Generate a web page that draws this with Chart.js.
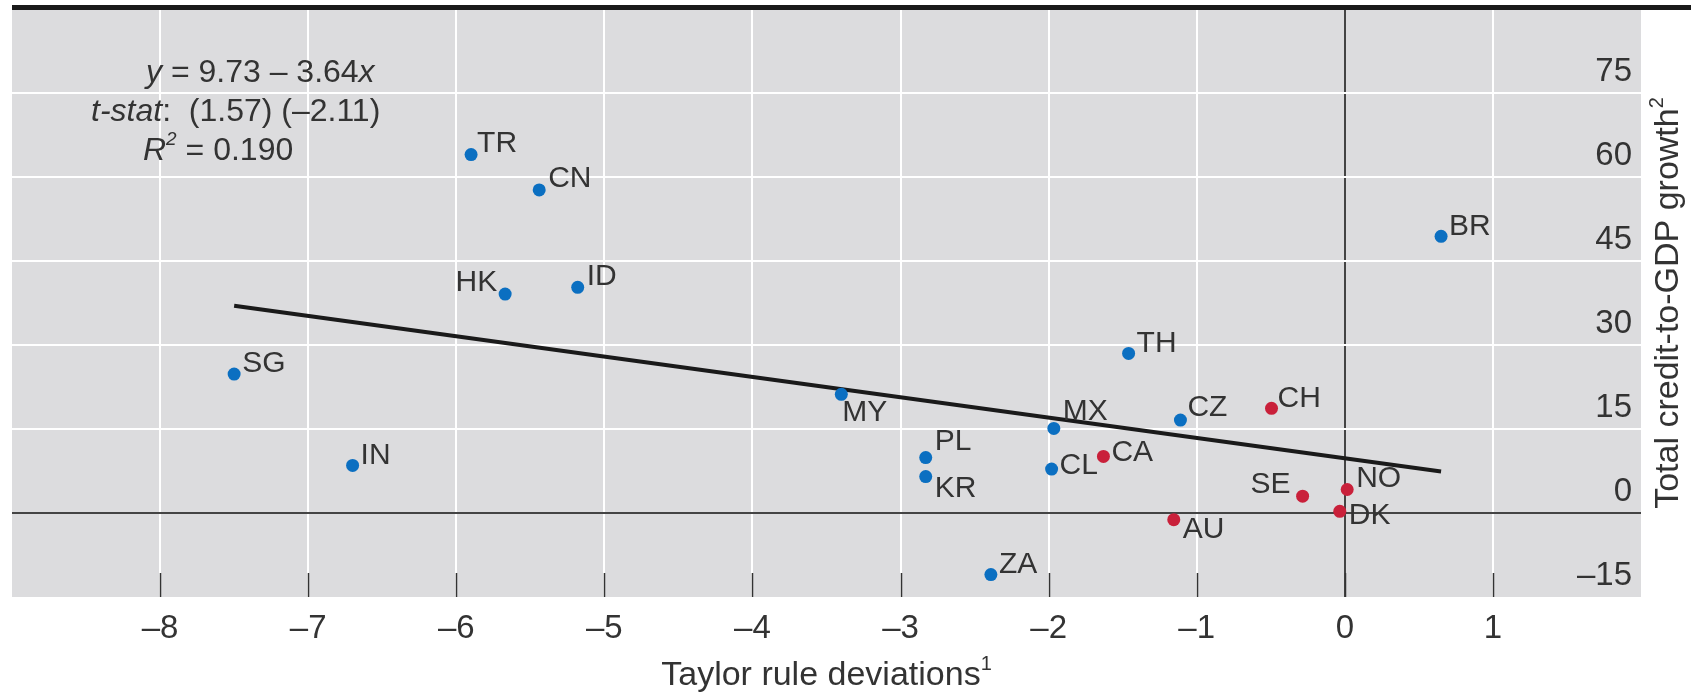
<!DOCTYPE html>
<html>
<head>
<meta charset="utf-8">
<script src="https://cdn.jsdelivr.net/npm/chart.js@4.4.1/dist/chart.umd.min.js"></script>
<style>
  html, body { margin: 0; padding: 0; background: #fff; }
</style>
</head>
<body>
<canvas id="chart" width="1691" height="692"></canvas>
<script>
/* Taylor rule deviations vs total credit-to-GDP growth */

// emerging markets (blue dots)
const emCodes = ['TR', 'CN', 'HK', 'ID', 'SG', 'IN', 'MY', 'TH', 'PL', 'KR', 'MX', 'CL', 'CZ', 'ZA', 'BR'];
const emX     = [-5.90, -5.44, -5.67, -5.18, -7.50, -6.70, -3.40, -1.46, -2.83, -2.83, -1.965, -1.98, -1.11, -2.39, 0.65];
const emY     = [64.0, 57.7, 39.1, 40.3, 24.8, 8.5, 21.2, 28.5, 9.9, 6.5, 15.1, 7.85, 16.6, -11.0, 49.4];

// advanced economies (red dots)
const aeCodes = ['CA', 'CH', 'SE', 'NO', 'DK', 'AU'];
const aeX     = [-1.63, -0.495, -0.285, 0.016, -0.034, -1.155];
const aeY     = [10.1, 18.7, 3.0, 4.2, 0.3, -1.2];

// fitted line, end points as drawn
const fitX = [-7.5, 0.65];
const fitY = [37.0, 7.4];

// axis ranges / ticks
const xMin = -9, xMax = 2, xStep = 1;
const yMin = -15, yMax = 90, yStep = 15;

const FONT = "'Liberation Sans', Arial, Helvetica, sans-serif";
const TXT = '#333';
const BLUE = '#0b6fc1';
const RED = '#c9203a';

// label placement next to each dot: [dx, dy]; negative dx = text to the left
const labelOff = {
  TR: [6, -11], CN: [9, -11], HK: [-8, -11], ID: [9, -11], SG: [8, -10], IN: [8, -10],
  MY: [1, 18], TH: [8, -10], PL: [9, -16], KR: [9, 12], MX: [9, -17], CL: [8, -3],
  CZ: [7, -12], ZA: [8, -10], BR: [8, -10],
  CA: [8, -4], CH: [6, -10], SE: [-12, -11], NO: [9, -11], DK: [9, 4], AU: [9, 10]
};

const fmt = v => (v < 0 ? '\u2013' + Math.abs(v) : String(v));

function drawRuns(ctx, x, y, runs) {
  let cx = x;
  runs.forEach(r => {
    ctx.font = (r.italic ? 'italic ' : '') + (r.size || 32) + 'px ' + FONT;
    ctx.fillText(r.t, cx, y + (r.dy || 0));
    cx += ctx.measureText(r.t).width;
  });
  return cx - x;
}
function runsWidth(ctx, runs) {
  let w = 0;
  runs.forEach(r => {
    ctx.font = (r.italic ? 'italic ' : '') + (r.size || 32) + 'px ' + FONT;
    w += ctx.measureText(r.t).width;
  });
  return w;
}

const decor = {
  id: 'decor',
  beforeDraw(chart) {
    const { ctx, chartArea: a } = chart;
    ctx.save();
    ctx.fillStyle = '#dcdcde';
    ctx.fillRect(a.left, a.top, a.right - a.left, a.bottom - a.top);
    ctx.restore();
  },
  beforeDatasetsDraw(chart) {
    // short dark tick marks inside the bottom edge
    const { ctx, chartArea: a, scales: { x } } = chart;
    ctx.save();
    ctx.strokeStyle = '#333';
    ctx.lineWidth = 1.5;
    x.ticks.forEach(t => {
      if (t.value <= xMin || t.value >= xMax) return;
      const px = Math.round(x.getPixelForValue(t.value)) + 0.5;
      ctx.beginPath();
      ctx.moveTo(px, a.bottom - 24);
      ctx.lineTo(px, a.bottom);
      ctx.stroke();
    });
    ctx.restore();
  },
  afterDatasetsDraw(chart) {
    const { ctx } = chart;
    ctx.save();
    ctx.fillStyle = TXT;
    ctx.font = '30px ' + FONT;
    ctx.textBaseline = 'middle';
    [[0, emCodes], [1, aeCodes]].forEach(([di, codes]) => {
      chart.getDatasetMeta(di).data.forEach((pt, i) => {
        const [dx, dy] = labelOff[codes[i]] || [8, -10];
        ctx.textAlign = dx < 0 ? 'right' : 'left';
        ctx.fillText(codes[i], pt.x + dx, pt.y + dy);
      });
    });
    ctx.restore();
  },
  afterDraw(chart) {
    const { ctx, chartArea: a, width } = chart;
    ctx.save();
    // heavy rule along the top
    ctx.strokeStyle = '#1a1a1a';
    ctx.lineWidth = 5;
    ctx.beginPath();
    ctx.moveTo(a.left, 7.5);
    ctx.lineTo(width, 7.5);
    ctx.stroke();

    // regression annotation
    ctx.fillStyle = TXT;
    ctx.textAlign = 'left';
    ctx.textBaseline = 'middle';
    drawRuns(ctx, 146, 73, [
      { t: 'y', italic: true }, { t: ' = 9.73 \u2013 3.64' }, { t: 'x', italic: true }
    ]);
    drawRuns(ctx, 91, 112, [
      { t: 't-stat', italic: true }, { t: ':  (1.57) (\u20132.11)' }
    ]);
    drawRuns(ctx, 143, 151, [
      { t: 'R', italic: true }, { t: '2', italic: true, size: 19, dy: -11 }, { t: ' = 0.190' }
    ]);

    // x axis title
    const xt = [{ t: 'Taylor rule deviations', size: 34 }, { t: '1', size: 20, dy: -12 }];
    const xw = runsWidth(ctx, xt);
    drawRuns(ctx, (a.left + a.right) / 2 - xw / 2, 676, xt);

    // y axis title, rotated
    const yt = [{ t: 'Total credit-to-GDP growth', size: 34 }, { t: '2', size: 20, dy: -12 }];
    const yw = runsWidth(ctx, yt);
    ctx.translate(1669, (a.top + a.bottom) / 2);
    ctx.rotate(-Math.PI / 2);
    drawRuns(ctx, -yw / 2, 0, yt);
    ctx.restore();
  }
};

new Chart(document.getElementById('chart'), {
  type: 'scatter',
  data: {
    datasets: [
      {
        label: 'Emerging markets',
        data: emX.map((x, i) => ({ x, y: emY[i] })),
        backgroundColor: BLUE, borderWidth: 0, pointRadius: 6.5, order: 1
      },
      {
        label: 'Advanced economies',
        data: aeX.map((x, i) => ({ x, y: aeY[i] })),
        backgroundColor: RED, borderWidth: 0, pointRadius: 6.5, order: 1
      },
      {
        type: 'line',
        label: 'Fit',
        data: fitX.map((x, i) => ({ x, y: fitY[i] })),
        borderColor: '#1a1a1a', borderWidth: 4, pointRadius: 0, fill: false, order: 2
      }
    ]
  },
  options: {
    responsive: false,
    animation: false,
    devicePixelRatio: 1,
    layout: { padding: { left: 12, top: 9, right: 0, bottom: 0 } },
    plugins: { legend: { display: false }, tooltip: { enabled: false } },
    scales: {
      x: {
        type: 'linear', position: 'bottom', min: xMin, max: xMax,
        border: { display: false },
        grid: {
          drawTicks: false, lineWidth: 2,
          color: c => c.tick.value === 0 ? '#444' : (c.tick.value <= xMin || c.tick.value >= xMax ? 'rgba(0,0,0,0)' : '#fff')
        },
        ticks: {
          stepSize: xStep, padding: 12, color: TXT, font: { family: FONT, size: 33 },
          callback: v => (v <= xMin || v >= xMax) ? '' : fmt(v)
        },
        afterFit: s => { s.height = 95; s.paddingLeft = 0; s.paddingRight = 0; }
      },
      y: {
        type: 'linear', position: 'right', min: yMin, max: yMax,
        border: { display: false },
        grid: {
          drawTicks: false, lineWidth: 2,
          color: c => c.tick.value === 0 ? '#444' : (c.tick.value <= yMin || c.tick.value >= yMax ? 'rgba(0,0,0,0)' : '#fff')
        },
        ticks: {
          stepSize: yStep, mirror: true, padding: -9, labelOffset: -21,
          color: TXT, font: { family: FONT, size: 33 },
          callback: v => v >= yMax ? '' : fmt(v)
        },
        afterFit: s => { s.width = 50; s.paddingTop = 0; s.paddingBottom = 0; }
      }
    }
  },
  plugins: [decor]
});
</script>
</body>
</html>
